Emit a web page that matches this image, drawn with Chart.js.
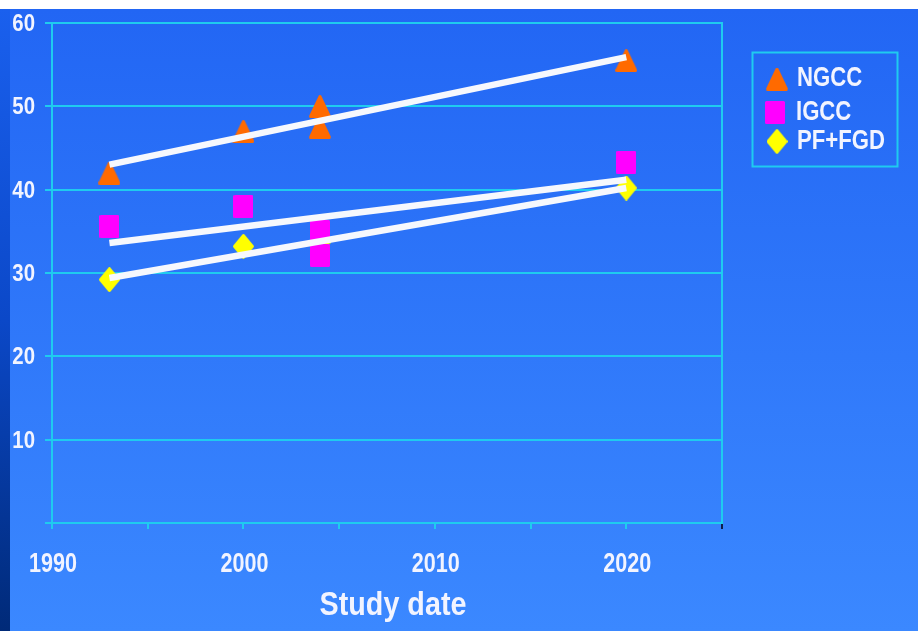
<!DOCTYPE html>
<html>
<head>
<meta charset="utf-8">
<title>Efficiency by study date</title>
<script src="https://cdn.jsdelivr.net/npm/chart.js@4.4.1/dist/chart.umd.min.js"></script>
<style>
  html, body { margin: 0; padding: 0; background: #ffffff; }
  canvas { display: block; }
</style>
</head>
<body>
<canvas id="chart" width="918" height="631"></canvas>
<script>
// Study results: plant efficiency (%) against study date
const seriesNames = ['NGCC', 'IGCC', 'PF+FGD'];

const yearsNGCC = [1993, 2000, 2004, 2004, 2020];
const valuesNGCC = [42, 47, 50, 47.5, 55.5];

const yearsIGCC = [1993, 2000, 2004, 2004, 2020];
const valuesIGCC = [35.6, 38, 35, 32.1, 43.3];

const yearsPF = [1993, 2000, 2004, 2020];
const valuesPF = [29.2, 33.2, 33.7, 40.2];

// Fitted trend lines, start and end of each
const trendYears = [1993, 2020];
const trendNGCC = [43, 55.9];
const trendIGCC = [33.6, 41.2];
const trendPF = [29.4, 40.2];

const xTickLabels = [1990, 2000, 2010, 2020];
const yTickLabels = [10, 20, 30, 40, 50, 60];
const xTitle = 'Study date';

const FONT = "'Liberation Sans', Arial, sans-serif";
const CYAN = '#1fcbef';
const TEXT = '#f2f4ff';
const COLORS = { NGCC: '#ff6a00', IGCC: '#ff00ff', PF: '#ffff00' };

// Marker sprites
function sprite(w, h, color, path) {
  const c = document.createElement('canvas');
  c.width = w; c.height = h;
  const g = c.getContext('2d');
  g.fillStyle = color;
  g.strokeStyle = color;
  g.lineJoin = 'round';
  g.lineWidth = 3;
  g.beginPath();
  path(g, w, h);
  g.closePath();
  g.fill();
  g.stroke();
  return c;
}
const triangle = sprite(22, 23, COLORS.NGCC, (g, w, h) => {
  g.moveTo(w / 2, 1.6); g.lineTo(w - 1.6, h - 1.6); g.lineTo(1.6, h - 1.6);
});
const square = sprite(20, 23, COLORS.IGCC, (g, w, h) => {
  g.rect(1.5, 1.5, w - 3, h - 3);
});
const diamond = sprite(21, 25, COLORS.PF, (g, w, h) => {
  g.moveTo(w / 2, 1.6); g.lineTo(w - 1.6, h / 2); g.lineTo(w / 2, h - 1.6); g.lineTo(1.6, h / 2);
});

const pairs = (xs, ys) => xs.map((x, i) => ({ x, y: ys[i] }));

function trend(label, ys) {
  return {
    type: 'line', label, data: pairs(trendYears, ys),
    borderColor: '#f6f8fd', borderWidth: 6.5, borderCapStyle: 'butt',
    pointRadius: 0, fill: false, order: 0
  };
}
function markers(label, xs, ys, img) {
  return {
    type: 'scatter', label, data: pairs(xs, ys),
    pointStyle: img, pointRadius: 11, order: 1
  };
}

// Condensed bold lettering, as on the slide
function squeezed(ctx, text, x, y, sx, align) {
  ctx.save();
  ctx.translate(x, y);
  ctx.scale(sx, 1);
  ctx.textAlign = align;
  ctx.fillText(text, 0, 0);
  ctx.restore();
}

// Slide background: blue wash with a darker strip down the left edge
const backdrop = {
  id: 'backdrop',
  beforeDraw(chart) {
    const { ctx, width, height } = chart;
    ctx.save();
    ctx.fillStyle = '#ffffff';
    ctx.fillRect(0, 0, width, 9);
    const g = ctx.createLinearGradient(0, 9, 0, height);
    g.addColorStop(0, '#2266f4');
    g.addColorStop(1, '#3b88ff');
    ctx.fillStyle = g;
    ctx.fillRect(0, 9, width, height - 9);
    const s = ctx.createLinearGradient(0, 9, 0, height);
    s.addColorStop(0, '#1a60ee');
    s.addColorStop(0.5, '#0b48c8');
    s.addColorStop(1, '#002a78');
    ctx.fillStyle = s;
    ctx.fillRect(0, 9, 10, height - 9);
    ctx.restore();
  }
};

// Tick labels and axis title, placed from the chart's own scales
const axisText = {
  id: 'axisText',
  afterDraw(chart) {
    const { ctx, scales: { x, y } } = chart;
    ctx.save();
    ctx.fillStyle = TEXT;
    ctx.textBaseline = 'middle';
    ctx.font = 'bold 24px ' + FONT;
    yTickLabels.forEach(v => squeezed(ctx, String(v), y.right - 17, y.getPixelForValue(v) + 1.5, 0.85, 'right'));
    ctx.font = 'bold 27px ' + FONT;
    xTickLabels.forEach(v => squeezed(ctx, String(v), x.getPixelForValue(v) + 1, x.top + 41.5, 0.8, 'center'));
    ctx.font = 'bold 34px ' + FONT;
    squeezed(ctx, xTitle, (x.left + x.right) / 2 + 6, x.top + 82.5, 0.845, 'center');
    ctx.restore();
  }
};

// Boxed key to the right of the plot
const keyBox = {
  id: 'keyBox',
  afterDraw(chart) {
    const { ctx } = chart;
    const rows = [
      { img: triangle, name: seriesNames[0], mx: 777, my: 79, tx: 797 },
      { img: square, name: seriesNames[1], mx: 775, my: 112.5, tx: 796 },
      { img: diamond, name: seriesNames[2], mx: 777, my: 141.5, tx: 797 }
    ];
    ctx.save();
    ctx.strokeStyle = CYAN;
    ctx.lineWidth = 2;
    ctx.strokeRect(752.5, 52.5, 145, 114);
    ctx.font = 'bold 27px ' + FONT;
    ctx.fillStyle = TEXT;
    ctx.textBaseline = 'middle';
    rows.forEach(r => {
      ctx.drawImage(r.img, r.mx - r.img.width / 2, r.my - r.img.height / 2);
      squeezed(ctx, r.name, r.tx, r.my, 0.82, 'left');
    });
    ctx.restore();
  }
};

new Chart(document.getElementById('chart'), {
  data: {
    datasets: [
      trend('NGCC trend', trendNGCC),
      trend('IGCC trend', trendIGCC),
      trend('PF+FGD trend', trendPF),
      markers(seriesNames[0], yearsNGCC, valuesNGCC, triangle),
      markers(seriesNames[1], yearsIGCC, valuesIGCC, square),
      markers(seriesNames[2], yearsPF, valuesPF, diamond)
    ]
  },
  options: {
    responsive: false,
    animation: false,
    events: [],
    layout: { padding: { top: 23, right: 196, left: 0, bottom: 0 } },
    plugins: { legend: { display: false }, tooltip: { enabled: false } },
    scales: {
      x: {
        type: 'linear', min: 1990, max: 2025,
        afterFit: s => { s.height = 108; },
        ticks: { stepSize: 5, display: false },
        grid: {
          drawOnChartArea: false, tickLength: 6, lineWidth: 2,
          color: c => (c.tick && c.tick.value === 2025) ? '#0d1f4a' : CYAN
        },
        border: { color: CYAN, width: 2 }
      },
      y: {
        type: 'linear', min: 0, max: 60,
        afterFit: s => { s.width = 52; },
        ticks: { stepSize: 10, display: false },
        grid: { color: CYAN, lineWidth: 2, tickLength: 7 },
        border: { color: CYAN, width: 2 }
      },
      y2: {
        type: 'linear', position: 'right', min: 0, max: 60,
        afterFit: s => { s.width = 0; },
        ticks: { display: false },
        grid: { display: false },
        border: { display: true, color: CYAN, width: 2 }
      }
    }
  },
  plugins: [backdrop, axisText, keyBox]
});
</script>
</body>
</html>
